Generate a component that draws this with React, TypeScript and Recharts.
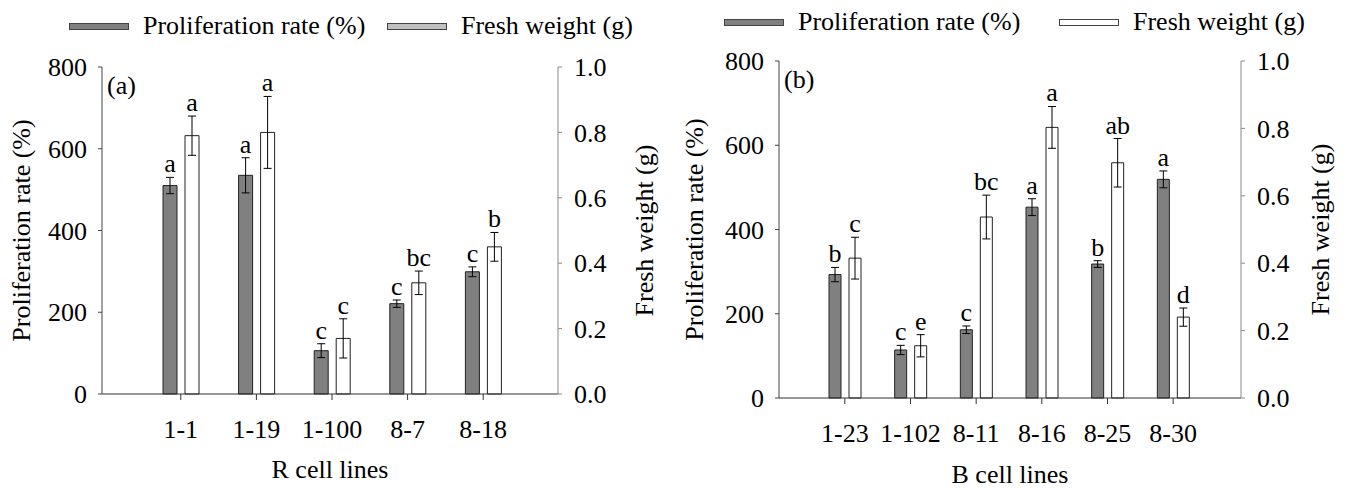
import React from 'react';
import { Bar, BarChart, ErrorBar, LabelList, Legend, XAxis, YAxis } from 'recharts';

const rCategories = ['1-1', '1-19', '1-100', '8-7', '8-18'];
const rProlif = [510, 535, 106, 221, 299];
const rProlifErr = [20, 43, 17, 9, 12];
const rProlifLetters = ['a', 'a', 'c', 'c', 'c'];
const rWeight = [0.79, 0.8, 0.17, 0.34, 0.45];
const rWeightErr = [0.06, 0.11, 0.06, 0.036, 0.044];
const rWeightLetters = ['a', 'a', 'c', 'bc', 'b'];

const bCategories = ['1-23', '1-102', '8-11', '8-16', '8-25', '8-30'];
const bProlif = [293, 114, 162, 453, 318, 519];
const bProlifErr = [17, 11, 9, 20, 8, 20];
const bProlifLetters = ['b', 'c', 'c', 'a', 'b', 'a'];
const bWeight = [0.415, 0.155, 0.537, 0.803, 0.698, 0.24];
const bWeightErr = [0.062, 0.033, 0.065, 0.062, 0.072, 0.027];
const bWeightLetters = ['c', 'e', 'bc', 'a', 'ab', 'd'];

const leftTicks = [0, 200, 400, 600, 800];
const rightTicks = [0, 0.2, 0.4, 0.6, 0.8, 1.0];

const FONT = 'Liberation Serif';
const DARK = '#808080';

type Row = { name: string; prolif: number; prolifErr: number; weight: number; weightErr: number };

function buildRows(cats: string[], p: number[], pe: number[], w: number[], we: number[]): Row[] {
  return cats.map((name, i) => ({ name, prolif: p[i], prolifErr: pe[i], weight: w[i], weightErr: we[i] }));
}

const textStyle = { fontFamily: FONT, fontSize: 26 };

const letterLabel = (values: number[], errs: number[], letters: string[]) => (props: any) => {
  const { x, y, width, height, index } = props;
  if (index == null || !values[index]) return null;
  const pxPerUnit = height / values[index];
  const top = y - errs[index] * pxPerUnit;
  return (
    <text x={x + width / 2} y={top - 5} textAnchor="middle" style={textStyle} fill="#000">
      {letters[index]}
    </text>
  );
};

const rotatedLabel = (text: string, dx: number) => (props: any) => {
  const { viewBox } = props;
  const cx = viewBox.x + viewBox.width / 2 + dx;
  const cy = viewBox.y + viewBox.height / 2;
  return (
    <text
      x={cx}
      y={cy}
      transform={`rotate(-90 ${cx} ${cy})`}
      textAnchor="middle"
      dominantBaseline="central"
      style={textStyle}
      fill="#000"
    >
      {text}
    </text>
  );
};

const bottomLabel = (text: string, baseline: number) => (props: any) => {
  const { viewBox } = props;
  return (
    <text x={viewBox.x + viewBox.width / 2} y={viewBox.y + baseline} textAnchor="middle" style={textStyle} fill="#000">
      {text}
    </text>
  );
};

type LegendProps = { width: number; centerY: number; lefts: number[]; secondFill: string };

function SwatchLegend({ width, centerY, lefts, secondFill }: LegendProps) {
  const items = [
    { label: 'Proliferation rate (%)', fill: DARK },
    { label: 'Fresh weight (g)', fill: secondFill },
  ];
  return (
    <div style={{ position: 'relative', width, height: 40 }}>
      {items.map((it, i) => (
        <div key={it.label} style={{ position: 'absolute', left: lefts[i], top: centerY - 15, height: 30, display: 'flex', alignItems: 'center' }}>
          <div style={{ width: 58, height: 5, background: it.fill, border: '1px solid #444', marginRight: 14 }} />
          <span style={{ ...textStyle, color: '#000', whiteSpace: 'nowrap' }}>{it.label}</span>
        </div>
      ))}
    </div>
  );
}

type PanelProps = {
  rows: Row[];
  width: number;
  leftAxisW: number;
  rightAxisW: number;
  top: number;
  xAxisH: number;
  pad: { left: number; right: number };
  barSize: number;
  tag: string;
  xTitle: string;
  xTitleBaseline: number;
  legendY: number;
  legendLefts: number[];
  secondFill: string;
  yLabelDx: [number, number];
  values: { p: number[]; pe: number[]; pl: string[]; w: number[]; we: number[]; wl: string[] };
};

function Panel(props: PanelProps) {
  const { rows, width, leftAxisW, rightAxisW, top, xAxisH, pad, barSize, tag, xTitle, xTitleBaseline, legendY, legendLefts, secondFill, yLabelDx, values } = props;
  const tickStyle = { fontFamily: FONT, fontSize: 26, fill: '#000', style: textStyle };
  return (
    <BarChart
      width={width}
      height={488}
      data={rows}
      margin={{ top: top - 40, right: 0, bottom: 0, left: 0 }}
      barSize={barSize}
      barGap={8}
      style={{ fontFamily: FONT }}
    >
      <Legend
        verticalAlign="top"
        wrapperStyle={{ top: 0, left: 0 }}
        content={() => <SwatchLegend width={width} centerY={legendY} lefts={legendLefts} secondFill={secondFill} />}
      />
      <XAxis
        dataKey="name"
        height={xAxisH}
        padding={pad}
        tick={tickStyle}
        tickSize={6}
        tickMargin={20}
        stroke="#333"
        interval={0}
        label={{ content: bottomLabel(xTitle, xTitleBaseline) }}
      />
      <YAxis
        yAxisId="left"
        width={leftAxisW}
        domain={[0, 800]}
        ticks={leftTicks}
        tick={tickStyle}
        tickSize={4}
        tickMargin={11}
        stroke="#444"
        label={{ content: rotatedLabel('Proliferation rate (%)', yLabelDx[0]) }}
      />
      <YAxis
        yAxisId="right"
        orientation="right"
        width={rightAxisW}
        domain={[0, 1]}
        ticks={rightTicks}
        tickFormatter={(v: number) => v.toFixed(1)}
        tick={tickStyle}
        tickSize={4}
        tickMargin={12}
        stroke="#888"
        label={{ content: rotatedLabel('Fresh weight (g)', yLabelDx[1]) }}
      />
      <Bar yAxisId="left" dataKey="prolif" fill={DARK} stroke="#222" strokeWidth={1} isAnimationActive={false}>
        <ErrorBar dataKey="prolifErr" width={4} stroke="#000" strokeWidth={1} />
        <LabelList dataKey="prolif" content={letterLabel(values.p, values.pe, values.pl)} />
      </Bar>
      <Bar yAxisId="right" dataKey="weight" fill="#fff" stroke="#222" strokeWidth={1} isAnimationActive={false}>
        <ErrorBar dataKey="weightErr" width={4} stroke="#000" strokeWidth={1} />
        <LabelList dataKey="weight" content={letterLabel(values.w, values.we, values.wl)} />
      </Bar>
      <text x={leftAxisW + 5} y={top + 27} style={textStyle} fill="#000">
        {tag}
      </text>
    </BarChart>
  );
}

export default function App() {
  const rRows = buildRows(rCategories, rProlif, rProlifErr, rWeight, rWeightErr);
  const bRows = buildRows(bCategories, bProlif, bProlifErr, bWeight, bWeightErr);
  return (
    <div style={{ position: 'absolute', left: 0, top: 0, width: 1347, height: 488, background: '#fff', display: 'flex', fontFamily: FONT }}>
      <Panel
        rows={rRows}
        width={670}
        leftAxisW={102}
        rightAxisW={112}
        top={67}
        xAxisH={94}
        pad={{ left: 41, right: 37 }}
        barSize={14}
        tag="(a)"
        xTitle="R cell lines"
        xTitleBaseline={84}
        legendY={26}
        legendLefts={[69, 387]}
        secondFill="#c0c0c0"
        yLabelDx={[-30, 30]}
        values={{ p: rProlif, pe: rProlifErr, pl: rProlifLetters, w: rWeight, we: rWeightErr, wl: rWeightLetters }}
      />
      <Panel
        rows={bRows}
        width={677}
        leftAxisW={109}
        rightAxisW={106}
        top={61}
        xAxisH={90}
        pad={{ left: 33, right: 35 }}
        barSize={12}
        tag="(b)"
        xTitle="B cell lines"
        xTitleBaseline={85}
        legendY={22}
        legendLefts={[54, 389]}
        secondFill="#fff"
        yLabelDx={[-30, 26]}
        values={{ p: bProlif, pe: bProlifErr, pl: bProlifLetters, w: bWeight, we: bWeightErr, wl: bWeightLetters }}
      />
    </div>
  );
}
